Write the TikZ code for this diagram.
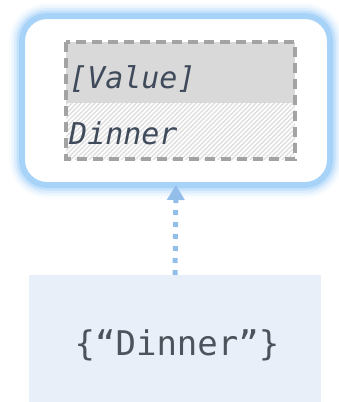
\documentclass[tikz,border=0pt]{standalone}
\usepackage{fontspec}
\setmonofont{DejaVu Sans Mono}
\usetikzlibrary{arrows.meta}

\definecolor{cardrim}{HTML}{A8D3F9}
\definecolor{linkblue}{HTML}{92BEE9}
\definecolor{srcfill}{HTML}{E8EFF8}
\definecolor{headfill}{HTML}{D9D9D9}
\definecolor{dashgray}{HTML}{A3A3A3}
\definecolor{hatchgray}{HTML}{DFDFDF}
\definecolor{cellink}{HTML}{3F4A5B}
\definecolor{srcink}{HTML}{4D535B}

\tikzset{
  card/.style={draw=cardrim, line width=6pt, fill=white, rounded corners=25pt,
    minimum width=308pt, minimum height=169pt, inner sep=0pt, outer sep=0pt},
  headcell/.style={fill=headfill, minimum width=229pt, minimum height=61pt,
    inner sep=0pt, outer sep=0pt, anchor=north west},
  datacell/.style={fill=white, minimum width=229pt, minimum height=56pt,
    inner sep=0pt, outer sep=0pt, anchor=north west},
  hatch/.style={draw=hatchgray, line width=1.4pt},
  celltext/.style={font=\ttfamily\itshape\fontsize{30}{32}\selectfont, text=cellink,
    inner sep=0pt, anchor=base west},
  srcbox/.style={fill=srcfill, minimum width=292pt, minimum height=127pt,
    inner sep=0pt, outer sep=0pt},
  srctext/.style={font=\ttfamily\fontsize{34}{36}\selectfont, text=srcink},
  link/.style={draw=linkblue, line width=5pt, dash pattern=on 5pt off 7pt,
    -{Triangle[width=17pt,length=15pt]}},
}

\begin{document}
\begin{tikzpicture}[x=1pt,y=-1pt]
  \useasboundingbox (0,0) rectangle (339,402);

  % soft halo around the card
  \foreach \w/\o in {26/0.08, 21/0.14, 16/0.25, 11/0.45} {
    \draw[cardrim, line width=\w pt, opacity=\o, rounded corners=25pt]
      (22,16) rectangle (330,185);
  }
  \node[card] (card) at (176,100.5) {};

  % value table inside the card
  \node[headcell] (head) at (66,42) {};
  \node[datacell] (data) at (66,103) {};
  \begin{scope}
    \clip (data.north west) rectangle (data.south east);
    \foreach \k in {0,...,64} {
      \draw[hatch] ({66+4.6*\k-60},160) -- ({66+4.6*\k},100);
    }
  \end{scope}
  \draw[dashgray, line width=3.5pt, dash pattern=on 10pt off 6pt]
    (head.north west) rectangle (data.south east);
  \node[celltext] (headlabel) at (69,88) {[Value]};
  \node[celltext] (datalabel) at (69,144) {Dinner};

  % source literal
  \node[srcbox] (src) at (175,338.5) {};
  \node[srctext] (srclabel) at (177,345) {\{“Dinner”\}};

  % binding link
  \draw[link] (src.north) -- (card.south);
\end{tikzpicture}
\end{document}
